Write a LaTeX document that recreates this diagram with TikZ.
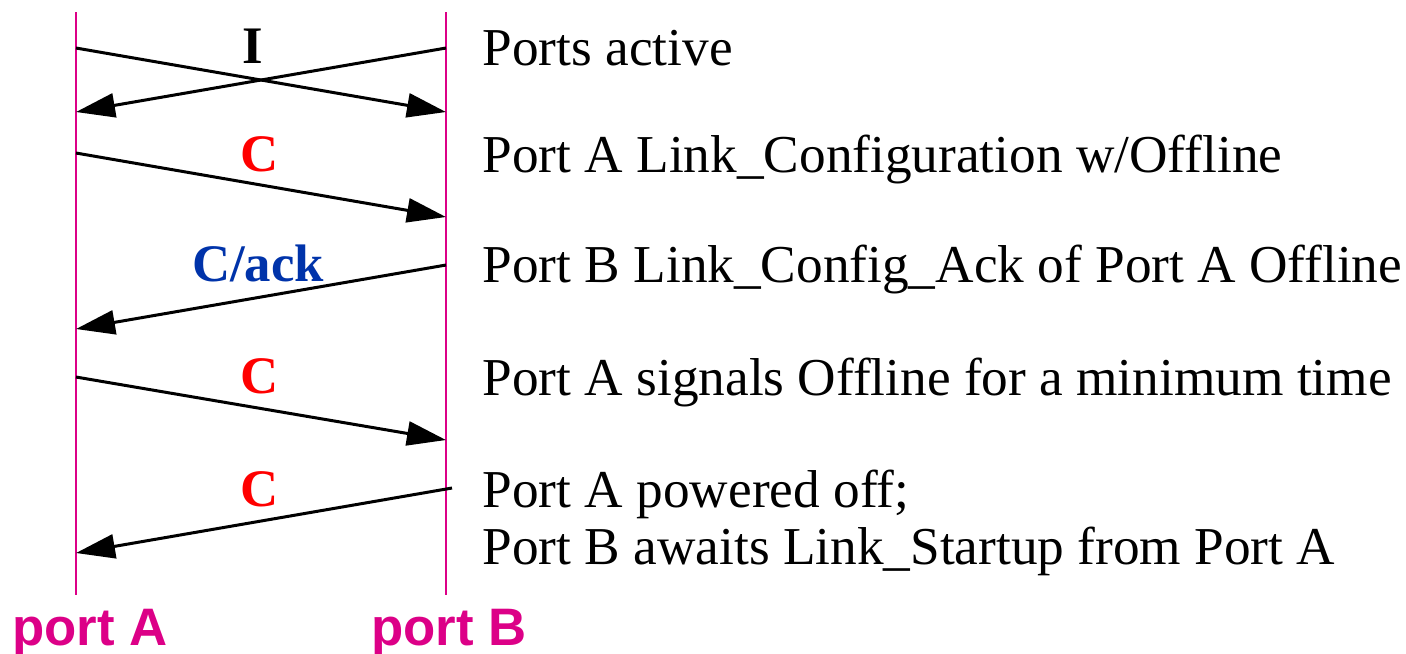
\documentclass[tikz,border=0pt]{standalone}
\usepackage{fontspec}
\setmainfont{Liberation Serif}
\setsansfont{Liberation Sans}
\usetikzlibrary{arrows.meta}
\definecolor{portmag}{RGB}{220,0,135}
\definecolor{ackblue}{RGB}{0,51,170}
\begin{document}
\begin{tikzpicture}[x=0.01cm,y=-0.01cm,
  lifeline/.style={draw=portmag,line width=0.02cm},
  msg/.style={draw=black,line width=0.03cm,-{Triangle[length=0.39cm,width=0.24cm]}},
  desc/.style={anchor=base west,inner sep=0pt,font=\fontsize{15.15}{18}\selectfont},
  lbl/.style={anchor=base,inner sep=0pt,font=\fontsize{15}{18}\selectfont\bfseries},
  portlbl/.style={anchor=base,inner sep=0pt,text=portmag,font=\fontsize{15}{18}\selectfont\sffamily\bfseries}]
\useasboundingbox (0,0) rectangle (1406,653);
% lifelines
\coordinate (aTop) at (76,12);
\coordinate (aBot) at (76,595);
\coordinate (bTop) at (446,12);
\coordinate (bBot) at (446,595);
\draw[lifeline] (aTop) -- (aBot);
\draw[lifeline] (bTop) -- (bBot);
% message end points
\coordinate (a1) at (76,48);   \coordinate (b1) at (446,112);
\coordinate (b1s) at (446,48); \coordinate (a1e) at (76,112);
\coordinate (a2) at (76,153);  \coordinate (b2) at (446,217);
\coordinate (b3) at (446,265); \coordinate (a3) at (76,329);
\coordinate (a4) at (76,377);  \coordinate (b4) at (446,440);
\coordinate (b5) at (452,488); \coordinate (a5) at (76,553);
\draw[msg] (a1) -- (b1);
\draw[msg] (b1s) -- (a1e);
\draw[msg] (a2) -- (b2);
\draw[msg] (b3) -- (a3);
\draw[msg] (a4) -- (b4);
\draw[msg] (b5) -- (a5);
% message labels
\node[lbl] (l1) at (253,63) {I};
\node[lbl,text=red] (l2) at (260,171) {C};
\node[lbl,text=ackblue] (l3) at (258,281) {C/ack};
\node[lbl,text=red] (l4) at (260,393) {C};
\node[lbl,text=red] (l5) at (260,506) {C};
% descriptions
\node[desc] (d1) at (482,65) {Ports active};
\node[desc] (d2) at (482,172) {Port A Link\_Configuration w/Offline};
\node[desc] (d3) at (482,282) {Port B Link\_Config\_Ack of Port A Offline};
\node[desc] (d4) at (482,395) {Port A signals Offline for a minimum time};
\node[desc] (d5) at (482,507) {Port A powered off;};
\node[desc] (d6) at (482,564) {Port B awaits Link\_Startup from Port A};
% port labels
\node[portlbl] (pA) at (90,645) {port A};
\node[portlbl] (pB) at (449,645) {port B};
\end{tikzpicture}
\end{document}
